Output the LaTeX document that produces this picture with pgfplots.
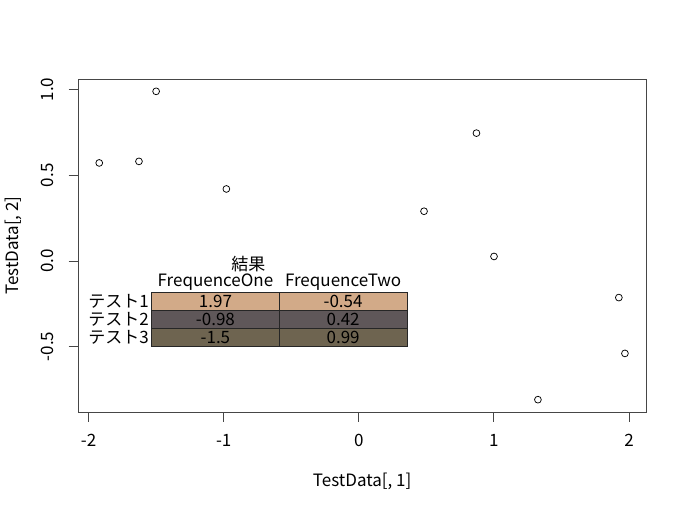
\documentclass[border=0pt]{standalone}
\usepackage{fontspec}
\setmainfont{Noto Sans CJK JP}
\usepackage{pgfplots}
\pgfplotsset{compat=1.18}

\definecolor{rowA}{RGB}{210,170,136}
\definecolor{rowB}{RGB}{95,87,89}
\definecolor{rowC}{RGB}{110,100,80}
\definecolor{boxgray}{RGB}{70,70,70}

\newcommand{\fs}{\fontsize{17bp}{20bp}\selectfont}

\begin{document}
\begin{tikzpicture}[font=\fs]
\path[use as bounding box] (0,0) rectangle (687bp,511bp);
\begin{axis}[
    at={(78.3bp,99bp)}, anchor=south west,
    scale only axis,
    width=567.7bp, height=333bp,
    xmin=-2.076, xmax=2.126,
    ymin=-0.882, ymax=1.062,
    axis line style={boxgray, line width=0.8bp},
    tick style={boxgray, line width=0.8bp},
    tick pos=left,
    tick align=outside,
    major tick length=9.6bp,
    xtick={-2,-1,0,1,2},
    ytick={-0.5,0,0.5,1},
    yticklabels={-0.5,0.0,0.5,1.0},
    /pgf/number format/assume math mode=true,
    tick label style={font=\fs},
    xticklabel style={anchor=center, yshift=-19bp},
    yticklabel style={rotate=90, anchor=center, yshift=21bp},
    xlabel={TestData[, 1]},
    ylabel={TestData[, 2]},
    xlabel style={at={(axis description cs:0.5,0)}, anchor=center, yshift=-69bp, font=\fs},
    ylabel style={at={(axis description cs:0,0.5)}, anchor=center, yshift=65bp, font=\fs},
    clip=false,
]
\addplot[only marks, mark=o, mark size=3.4bp, mark options={line width=0.75bp, black}] coordinates {
    (-1.921, 0.572)
    (-1.627, 0.581)
    (-1.50, 0.99)
    (-0.98, 0.42)
    (0.483, 0.29)
    (0.871, 0.746)
    (1.001, 0.026)
    (1.326, -0.81)
    (1.925, -0.214)
    (1.97, -0.54)
};

% table drawn inside the plot
\fill[rowA] (axis cs:-1.533,-0.182) rectangle (axis cs:0.357,-0.288);
\fill[rowB] (axis cs:-1.533,-0.288) rectangle (axis cs:0.357,-0.394);
\fill[rowC] (axis cs:-1.533,-0.394) rectangle (axis cs:0.357,-0.5);
\draw[black!85, line width=0.6bp] (axis cs:-1.533,-0.182) rectangle (axis cs:0.357,-0.5);
\draw[black!85, line width=0.6bp] (axis cs:-1.533,-0.288) -- (axis cs:0.357,-0.288);
\draw[black!85, line width=0.6bp] (axis cs:-1.533,-0.394) -- (axis cs:0.357,-0.394);
\draw[black!85, line width=0.6bp] (axis cs:-0.589,-0.182) -- (axis cs:-0.589,-0.5);

\node[anchor=center] at (axis cs:-0.817,-0.02) {結果};
\node[anchor=center] at (axis cs:-1.061,-0.125) {FrequenceOne};
\node[anchor=center] at (axis cs:-0.116,-0.125) {FrequenceTwo};

\node[anchor=east, inner sep=1bp] at (axis cs:-1.545,-0.235) {テスト1};
\node[anchor=east, inner sep=1bp] at (axis cs:-1.545,-0.341) {テスト2};
\node[anchor=east, inner sep=1bp] at (axis cs:-1.545,-0.447) {テスト3};

\node at (axis cs:-1.061,-0.235) {1.97};
\node at (axis cs:-0.116,-0.235) {-0.54};
\node at (axis cs:-1.061,-0.341) {-0.98};
\node at (axis cs:-0.116,-0.341) {0.42};
\node at (axis cs:-1.061,-0.447) {-1.5};
\node at (axis cs:-0.116,-0.447) {0.99};
\end{axis}
\end{tikzpicture}
\end{document}
